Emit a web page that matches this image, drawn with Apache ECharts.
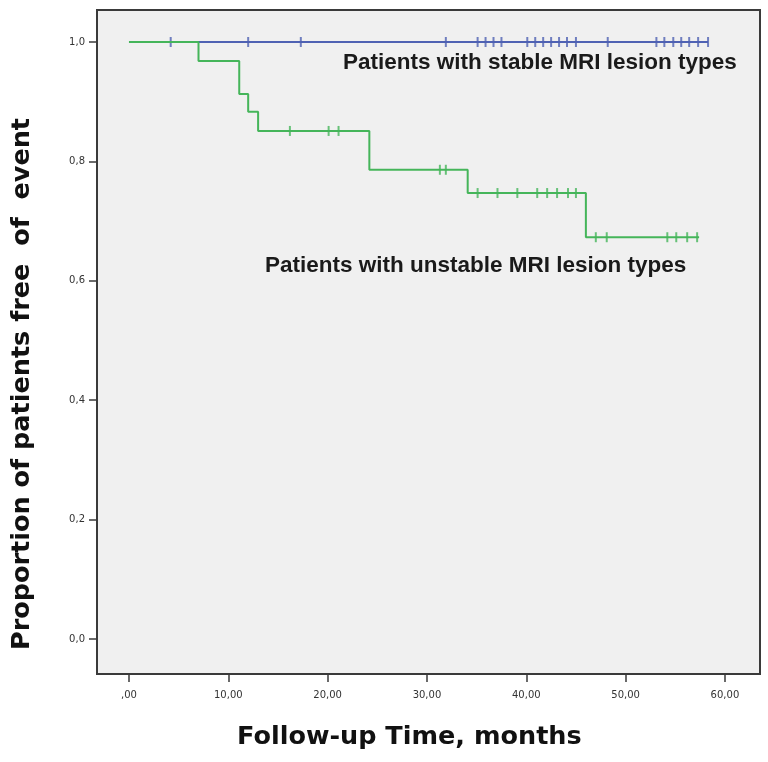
<!DOCTYPE html>
<html>
<head>
<meta charset="utf-8">
<script src="https://cdn.jsdelivr.net/npm/echarts@6/dist/echarts.min.js"></script>
<style>html,body{margin:0;padding:0;background:#fff}#c{width:768px;height:762px}</style>
</head>
<body>
<div id="c"></div>
<script>
// Stable group: survival curve and censor times (months)
const stableCurve = [[0, 1.0], [58.3, 1.0]];
const stableCensors = [4.2, 12.0, 17.3, 31.9, 35.1, 35.9, 36.7, 37.5, 40.1, 40.9, 41.7, 42.5, 43.3, 44.1, 45.0, 48.2, 53.1, 53.9, 54.8, 55.6, 56.4, 57.3, 58.3];
// Unstable group: event times and survival after each event
const unstableTimes = [0, 7.0, 11.1, 12.0, 13.0, 24.2, 34.1, 46.0, 57.4];
const unstableSurv  = [1.0, 0.968, 0.913, 0.883, 0.851, 0.786, 0.747, 0.673, 0.673];
const unstableCensors = [16.2, 20.1, 21.1, 31.3, 31.9, 35.1, 37.1, 39.1, 41.1, 42.1, 43.1, 44.2, 45.0, 47.0, 48.1, 54.2, 55.1, 56.2, 57.2];
// Tick values and labels
const xTicks = [0, 10, 20, 30, 40, 50, 60];
const xTickLabels = [',00', '10,00', '20,00', '30,00', '40,00', '50,00', '60,00'];
const yTicks = [0, 0.2, 0.4, 0.6, 0.8, 1.0];
const yTickLabels = ['0,0', '0,2', '0,4', '0,6', '0,8', '1,0'];

function survAt(times, surv, t) {
  let s = surv[0];
  for (let i = 0; i < times.length; i++) { if (times[i] <= t) s = surv[i]; }
  return s;
}

const blue = '#4f62b3';
const green = '#45b55a';
const frame = '#3a3a3a';

const chart = echarts.init(document.getElementById('c'), null, {renderer: 'canvas'});
chart.setOption({
  animation: false,
  backgroundColor: '#ffffff',
  grid: {left: 97, right: 8, top: 10, bottom: 88, show: true, backgroundColor: '#f0f0f0', borderColor: frame, borderWidth: 2},
  xAxis: {
    type: 'value', min: -3.22, max: 63.53,
    axisLine: {show: true, onZero: false, lineStyle: {color: frame, width: 2}}, splitLine: {show: false},
    axisTick: {show: true, customValues: xTicks, length: 8, lineStyle: {color: frame, width: 1.5}},
    axisLabel: {customValues: xTicks, margin: 16, fontSize: 10, color: '#333', fontFamily: 'DejaVu Sans',
      formatter: v => xTickLabels[xTicks.indexOf(Math.round(v))]}
  },
  yAxis: {
    type: 'value', min: -0.0586, max: 1.0536,
    axisLine: {show: true, onZero: false, lineStyle: {color: frame, width: 2}}, splitLine: {show: false},
    axisTick: {show: true, customValues: yTicks, length: 8, lineStyle: {color: frame, width: 1.5}},
    axisLabel: {customValues: yTicks, margin: 12, fontSize: 10, color: '#333', fontFamily: 'DejaVu Sans',
      formatter: v => yTickLabels[Math.round(v * 5)]}
  },
  series: [
    {type: 'line', data: stableCurve, step: 'end', showSymbol: false, lineStyle: {color: blue, width: 2}, z: 2},
    {type: 'scatter', data: stableCensors.map(t => [t, 1.0]), symbol: 'rect', symbolSize: [2, 10], itemStyle: {color: blue}, z: 2},
    {type: 'line', data: unstableTimes.map((t, i) => [t, unstableSurv[i]]), step: 'end', showSymbol: false, lineStyle: {color: green, width: 2}, z: 3},
    {type: 'scatter', data: unstableCensors.map(t => [t, survAt(unstableTimes, unstableSurv, t)]), symbol: 'rect', symbolSize: [2, 10], itemStyle: {color: green}, z: 3}
  ],
  graphic: [
    {type: 'text', left: 343, top: 51, style: {text: 'Patients with stable MRI lesion types', font: 'bold 22.5px "Liberation Sans", Arial, sans-serif', fill: '#1a1a1a'}},
    {type: 'text', left: 265, top: 254, style: {text: 'Patients with unstable MRI lesion types', font: 'bold 22.5px "Liberation Sans", Arial, sans-serif', fill: '#1a1a1a'}},
    {type: 'text', left: 237, top: 724, style: {text: 'Follow-up Time, months', font: 'bold 25.5px "DejaVu Sans", sans-serif', fill: '#111'}},
    {type: 'text', x: 22, y: 384, rotation: Math.PI / 2, style: {text: 'Proportion of patients free  of  event', font: 'bold 25.5px "DejaVu Sans", sans-serif', fill: '#111', align: 'center', verticalAlign: 'middle'}}
  ]
});
</script>
</body>
</html>
